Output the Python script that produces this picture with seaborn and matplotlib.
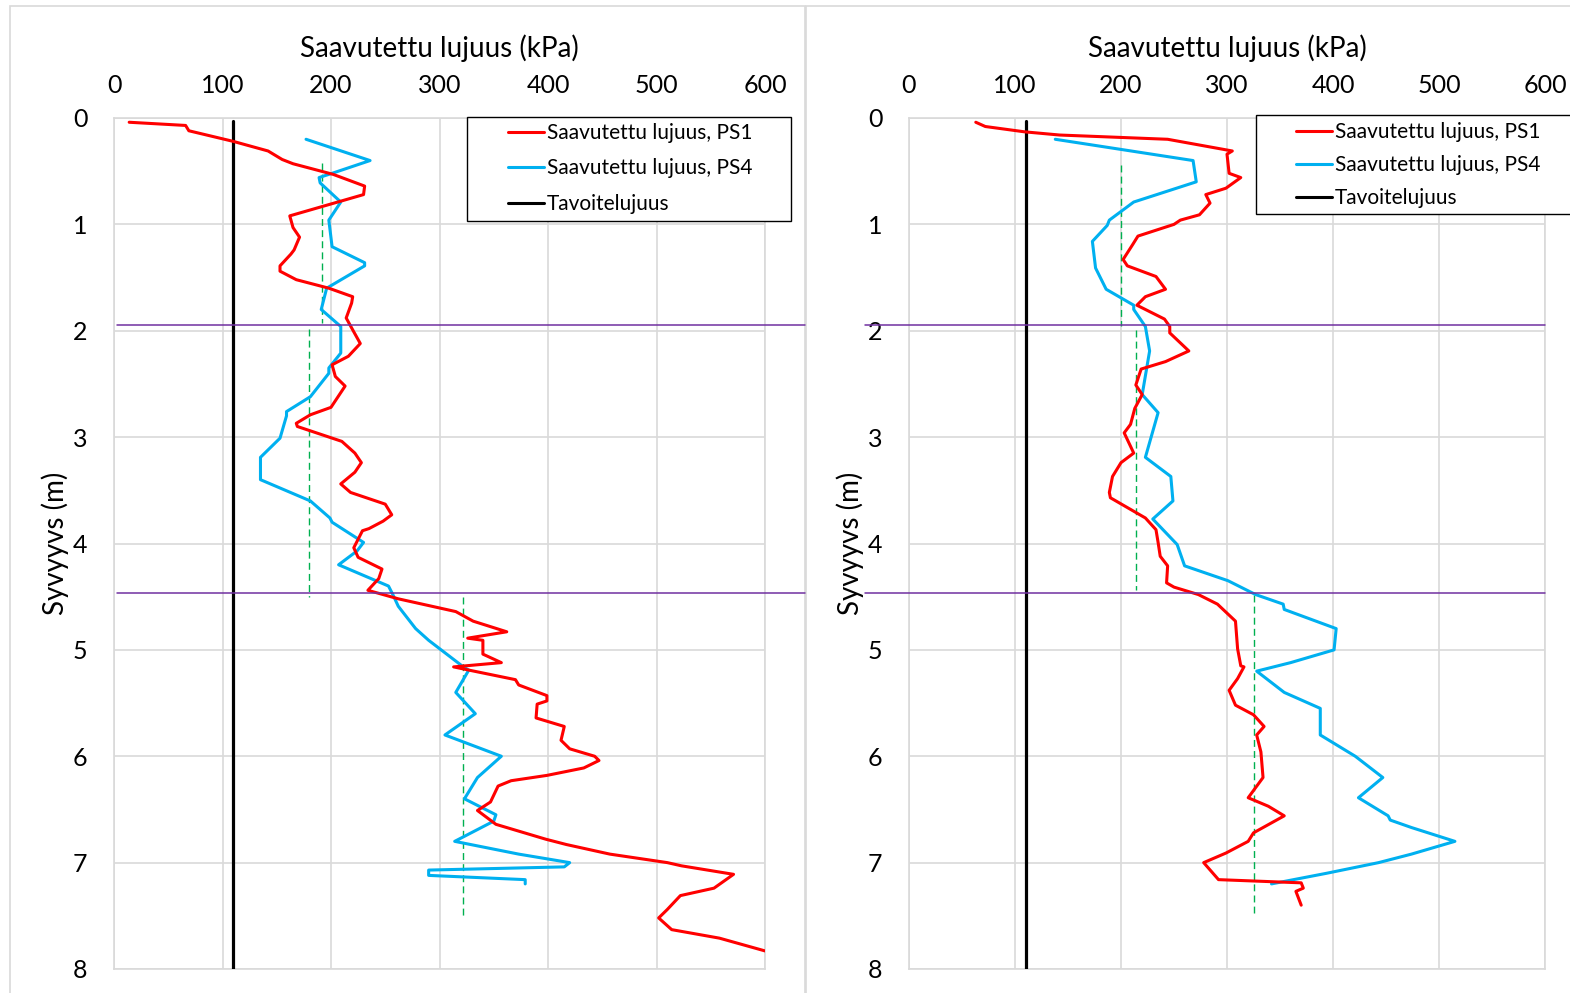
import numpy as np
import pandas as pd
import matplotlib
matplotlib.use("Agg")
import matplotlib.pyplot as plt
import seaborn as sns
from matplotlib.patches import Rectangle
from matplotlib.lines import Line2D

# ---------------- data ----------------
x_label = "Saavutettu lujuus (kPa)"
y_label = "Syvyyvs (m)"
series_labels = ["Saavutettu lujuus, PS1", "Saavutettu lujuus, PS4", "Tavoitelujuus"]
x_ticks = [0, 100, 200, 300, 400, 500, 600]
y_ticks = [0, 1, 2, 3, 4, 5, 6, 7, 8]
target_value = 110
target_depth = [0.03, 8.0]
layer_depths = [1.95, 4.47]

left_ps1_depth = [0.04, 0.07, 0.12, 0.22, 0.31, 0.39, 0.43, 0.53, 0.64, 0.72, 0.92, 1.03, 1.12, 1.24,
                  1.28, 1.39, 1.44, 1.52, 1.60, 1.68, 1.74, 1.88, 2.01, 2.12, 2.24, 2.32, 2.43, 2.52,
                  2.72, 2.79, 2.87, 2.90, 3.04, 3.15, 3.24, 3.33, 3.44, 3.52, 3.63, 3.73, 3.79, 3.86,
                  3.88, 4.04, 4.13, 4.24, 4.33, 4.44, 4.52, 4.64, 4.73, 4.83, 4.89, 4.91, 5.04, 5.12,
                  5.16, 5.19, 5.28, 5.33, 5.43, 5.48, 5.51, 5.64, 5.72, 5.85, 5.93, 6.00, 6.04, 6.11,
                  6.18, 6.23, 6.28, 6.43, 6.47, 6.51, 6.64, 6.78, 6.83, 6.92, 7.00, 7.03, 7.11, 7.24,
                  7.31, 7.44, 7.52, 7.63, 7.71, 7.83]
left_ps1_value = [14, 66, 69, 110, 142, 155, 165, 202, 231, 230, 162, 165, 171, 166,
                  163, 153, 153, 168, 198, 220, 219, 214, 221, 227, 216, 201, 204, 213,
                  200, 181, 168, 169, 210, 222, 228, 222, 209, 218, 250, 256, 248, 235,
                  229, 221, 225, 247, 244, 234, 262, 315, 331, 362, 326, 340, 340, 357,
                  313, 327, 370, 373, 399, 399, 390, 389, 415, 412, 420, 443, 447, 433,
                  399, 366, 354, 347, 341, 335, 352, 398, 417, 457, 510, 523, 571, 553,
                  522, 510, 502, 514, 558, 600]

left_ps4_depth = [0.20, 0.40, 0.52, 0.56, 0.61, 0.79, 0.96, 1.21, 1.36, 1.39, 1.60, 1.80, 1.96, 2.21,
                  2.35, 2.40, 2.62, 2.76, 2.80, 3.01, 3.19, 3.40, 3.60, 3.76, 3.80, 3.99, 4.07, 4.20,
                  4.40, 4.48, 4.59, 4.80, 4.91, 5.16, 5.19, 5.40, 5.60, 5.80, 6.00, 6.20, 6.40, 6.55,
                  6.61, 6.80, 6.92, 7.00, 7.04, 7.07, 7.12, 7.16, 7.20]
left_ps4_value = [177, 236, 201, 189, 190, 209, 198, 201, 231, 231, 196, 191, 209, 209,
                  198, 198, 181, 159, 159, 153, 135, 135, 181, 199, 201, 230, 224, 207,
                  253, 257, 262, 278, 290, 322, 327, 315, 333, 305, 357, 335, 323, 352,
                  350, 314, 373, 420, 415, 290, 290, 379, 379]

right_ps1_depth = [0.04, 0.08, 0.13, 0.16, 0.20, 0.31, 0.34, 0.52, 0.56, 0.66, 0.72, 0.80, 0.91, 0.96,
                   1.00, 1.11, 1.19, 1.33, 1.39, 1.49, 1.61, 1.68, 1.76, 1.89, 1.96, 2.02, 2.19, 2.29,
                   2.36, 2.51, 2.60, 2.73, 2.88, 2.96, 3.15, 3.24, 3.37, 3.52, 3.57, 3.76, 3.87, 3.99,
                   4.12, 4.21, 4.37, 4.41, 4.48, 4.57, 4.73, 4.99, 5.15, 5.16, 5.27, 5.38, 5.52, 5.61,
                   5.72, 5.80, 5.96, 6.20, 6.39, 6.47, 6.56, 6.72, 6.80, 6.91, 7.00, 7.16, 7.19, 7.24,
                   7.27, 7.40]
right_ps1_value = [63, 72, 109, 142, 244, 305, 300, 302, 313, 299, 280, 284, 274, 256,
                   250, 216, 211, 202, 206, 233, 242, 223, 215, 241, 246, 246, 264, 242,
                   219, 214, 220, 213, 209, 203, 212, 200, 192, 189, 190, 223, 233, 235,
                   237, 244, 243, 250, 273, 291, 308, 310, 313, 316, 310, 302, 308, 325,
                   335, 328, 332, 334, 320, 339, 354, 325, 320, 299, 278, 292, 370, 372,
                   365, 370]

right_ps4_depth = [0.20, 0.40, 0.60, 0.79, 0.96, 1.01, 1.16, 1.41, 1.61, 1.76, 1.80, 1.96, 2.19, 2.60,
                   2.77, 3.19, 3.37, 3.60, 3.77, 4.01, 4.21, 4.35, 4.48, 4.57, 4.62, 4.80, 5.00, 5.12,
                   5.20, 5.40, 5.55, 5.80, 6.00, 6.20, 6.39, 6.56, 6.60, 6.67, 6.80, 6.92, 7.00, 7.10,
                   7.20]
right_ps4_value = [138, 268, 271, 212, 189, 187, 173, 176, 186, 212, 212, 223, 227, 220,
                   235, 223, 247, 249, 230, 253, 260, 301, 327, 353, 354, 403, 401, 360,
                   328, 354, 388, 388, 421, 447, 424, 452, 454, 474, 515, 474, 443, 394,
                   342]

# layer averages (dashed green)
left_avg_value = [192, 180, 322]
left_avg_top = [0.42, 1.98, 4.50]
left_avg_bottom = [1.93, 4.50, 7.52]
right_avg_value = [200, 214, 325]
right_avg_top = [0.44, 1.99, 4.48]
right_avg_bottom = [1.96, 4.44, 7.47]

# ---------------- style ----------------
sns.set_theme(style="white")
plt.rcParams["font.family"] = ["Lato", "DejaVu Sans"]
plt.rcParams["text.color"] = "black"

RED = "#ff0000"
BLUE = "#00b0f0"
GRID = "#d9d9d9"
PURPLE = "#7030a0"
GREEN = "#00b050"

W, H = 1570, 993
fig = plt.figure(figsize=(W / 100, H / 100), dpi=100)
fig.patch.set_facecolor("white")


def rect(l, r, t, b):
    return [l / W, 1 - b / H, (r - l) / W, (b - t) / H]


# chart-area borders
fig.add_artist(Rectangle((10 / W, -0.05), (805 - 10) / W, 1.05 - 6 / H, transform=fig.transFigure,
                         fill=False, edgecolor=GRID, lw=1.2, zorder=-1))
fig.add_artist(Rectangle((806 / W, -0.05), (1600 - 806) / W, 1.05 - 6 / H, transform=fig.transFigure,
                         fill=False, edgecolor=GRID, lw=1.2, zorder=-1))

axL = fig.add_axes(rect(114, 765, 118, 969))
axR = fig.add_axes(rect(909, 1545, 118, 969))

panels = [
    (axL, left_ps1_value, left_ps1_depth, left_ps4_value, left_ps4_depth,
     left_avg_value, left_avg_top, left_avg_bottom, (0.005, 1.061),
     (508, 123), (467, 117, 791, 221), 0.74),
    (axR, right_ps1_value, right_ps1_depth, right_ps4_value, right_ps4_depth,
     right_avg_value, right_avg_top, right_avg_bottom, (-0.069, 1.0),
     (1296, 122), (1256, 115, 1600, 214), 0.62),
]

for (ax, v1, d1, v4, d4, av, at, ab, hspan, leg_xy, leg_box, lspace) in panels:
    ax.set_facecolor("white")
    df1 = pd.DataFrame({"value": v1, "depth": d1})
    df4 = pd.DataFrame({"value": v4, "depth": d4})
    dft = pd.DataFrame({"value": [target_value, target_value], "depth": target_depth})

    # layer averages
    for v, t, b in zip(av, at, ab):
        dfa = pd.DataFrame({"value": [v, v], "depth": [t, b]})
        sns.lineplot(data=dfa, x="value", y="depth", sort=False, estimator=None, orient="y",
                     color=GREEN, lw=1.0, ax=ax, zorder=3)
        ax.lines[-1].set_dashes((5, 3))

    sns.lineplot(data=dft, x="value", y="depth", sort=False, estimator=None, orient="y",
                 color="black", lw=2.3, ax=ax, zorder=4)
    sns.lineplot(data=df4, x="value", y="depth", sort=False, estimator=None, orient="y",
                 color=BLUE, lw=2.2, ax=ax, zorder=5)
    sns.lineplot(data=df1, x="value", y="depth", sort=False, estimator=None, orient="y",
                 color=RED, lw=2.2, ax=ax, zorder=6)

    for d in layer_depths:
        ax.axhline(d, xmin=hspan[0], xmax=hspan[1], color=PURPLE, lw=1.1, clip_on=False, zorder=7)

    ax.set_xlim(0, 600)
    ax.set_ylim(8, 0)
    ax.set_xticks(x_ticks)
    ax.set_yticks(y_ticks)
    ax.xaxis.tick_top()
    ax.xaxis.set_label_position("top")
    ax.grid(True, color=GRID, lw=1.2)
    ax.set_axisbelow(True)
    for s in ax.spines.values():
        s.set_color(GRID)
        s.set_linewidth(1.2)
    ax.tick_params(axis="both", length=0, labelsize=18, colors="black")
    ax.tick_params(axis="x", pad=15)
    ax.tick_params(axis="y", pad=19)
    ax.set_xlabel(x_label, fontsize=20, labelpad=12, color="black")
    ax.set_ylabel(y_label, fontsize=20, labelpad=3, color="black")

    # legend frame (drawn inside the axes so the legend text sits above it)
    l, t, r, b = leg_box
    ax.add_patch(Rectangle((l / W, 1 - b / H), (r - l) / W, (b - t) / H, transform=fig.transFigure,
                           facecolor="white", edgecolor="black", lw=1.0, zorder=9, clip_on=False))

    handles = [Line2D([], [], color=RED, lw=2.2),
               Line2D([], [], color=BLUE, lw=2.2),
               Line2D([], [], color="black", lw=2.2)]
    leg = ax.legend(handles, series_labels, loc="upper left",
                    bbox_to_anchor=(leg_xy[0] / W, 1 - leg_xy[1] / H), bbox_transform=fig.transFigure,
                    frameon=False, fontsize=15, handlelength=1.75, handletextpad=0.12,
                    borderpad=0, borderaxespad=0, labelspacing=lspace)
    leg.set_zorder(10)

fig.savefig("out.png", dpi=100, facecolor="white")
